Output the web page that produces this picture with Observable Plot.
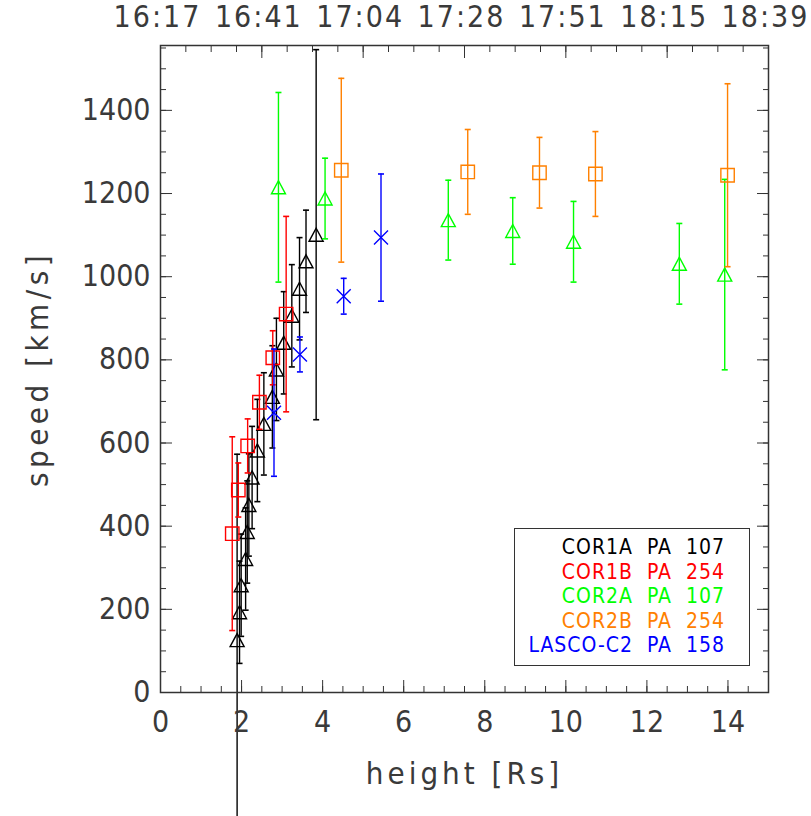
<!DOCTYPE html>
<html><head><meta charset="utf-8">
<script src="https://cdn.jsdelivr.net/npm/d3@7"></script>
<script src="https://cdn.jsdelivr.net/npm/@observablehq/plot@0.6"></script>
<style>
body{margin:0;background:#fff;}
#wrap{position:relative;width:811px;height:816px;overflow:hidden;}
#legend{position:absolute;left:514px;top:528px;width:236px;height:138px;border:1.5px solid #333;box-sizing:border-box;
 font-family:"Liberation Sans Narrow","DejaVu Sans Condensed","Liberation Sans",sans-serif;font-size:21px;text-align:right;
 padding:6px 24px 0 0;line-height:24.5px;white-space:pre;background:#fff;letter-spacing:1px;}
.ls2 text{letter-spacing:2px;}
</style></head><body><div id="wrap"></div>
<script>
// ---- data ----
const cor1aX = [1.89,1.95,1.99,2.10,2.14,2.18,2.26,2.39,2.55,2.76,2.86,3.04,3.24,3.43,3.59,3.84];
const cor1aY = [126,193,258,321,386,451,517,582,646,711,777,841,906,971,1037,1101];
const cor1aErr = [447,123,123,123,123,123,123,123,123,123,123,123,123,123,123,445];

const cor1bX = [1.77,1.92,2.15,2.44,2.77,3.10];
const cor1bY = [382,487,593,698,805,910];
const cor1bErr = [233,65,65,65,65,235];

const cor2aX = [2.91,4.06,7.10,8.69,10.19,12.80,13.92];
const cor2aY = [1215,1188,1136,1110,1084,1031,1005];
const cor2aErr = [228,97,96,80,97,97,229];

const cor2bX = [4.46,7.58,9.35,10.73,13.99];
const cor2bY = [1256,1252,1250,1247,1244];
const cor2bErr = [221,102,85,102,220];

const c2X = [2.80,3.44,4.52,5.44];
const c2Y = [673,813,953,1094];
const c2Err = [153,42,43,153];

const seriesNames = ["COR1A","COR1B","COR2A","COR2B","LASCO-C2"];
const seriesPA = [107,254,107,254,158];
const seriesColors = ["#000000","#ff0000","#00ff00","#ff8000","#0000ff"];

const xMajorTicks = [0,2,4,6,8,10,12,14];
const yMajorTicks = [0,200,400,600,800,1000,1200,1400];
const topTickPos = [0,2.5,5,7.5,10,12.5,15];
const topTickLabels = ["16:17","16:41","17:04","17:28","17:51","18:15","18:39"];

// ---- symbols ----
const capSym = {draw(c,s){const r=Math.sqrt(s/Math.PI);c.moveTo(-r,0);c.lineTo(r,0);}};
const triSym = {draw(c,s){const r=Math.sqrt(s/Math.PI);c.moveTo(-r,r*0.93);c.lineTo(0,-r*0.93);c.lineTo(r,r*0.93);c.closePath();}};
const sqSym = {draw(c,s){const r=Math.sqrt(s/Math.PI);c.moveTo(-r,-r);c.lineTo(r,-r);c.lineTo(r,r);c.lineTo(-r,r);c.closePath();}};
const xSym = {draw(c,s){const r=Math.sqrt(s/Math.PI);c.moveTo(-r,-r);c.lineTo(r,r);c.moveTo(-r,r);c.lineTo(r,-r);}};

const series = [
  {x:cor1aX,y:cor1aY,e:cor1aErr,sym:triSym,r:7},
  {x:cor1bX,y:cor1bY,e:cor1bErr,sym:sqSym,r:6.7},
  {x:cor2aX,y:cor2aY,e:cor2aErr,sym:triSym,r:7},
  {x:cor2bX,y:cor2bY,e:cor2bErr,sym:sqSym,r:6.7},
  {x:c2X,y:c2Y,e:c2Err,sym:xSym,r:7}
];

const FONT = '"Liberation Sans Narrow","DejaVu Sans Condensed","Liberation Sans",sans-serif';
const TXT = "#3a3a3a";
const marks = [];
series.forEach((s,k)=>{
  const rows = s.x.map((x,i)=>({x, y:s.y[i], e:s.e[i]}));
  const col = seriesColors[k];
  marks.push(Plot.ruleX(rows,{x:"x",y1:d=>d.y-d.e,y2:d=>d.y+d.e,stroke:col,strokeWidth:1.4}));
  marks.push(Plot.dot(rows,{x:"x",y:d=>d.y+d.e,symbol:capSym,r:3,stroke:col,strokeWidth:1.6}));
  marks.push(Plot.dot(rows,{x:"x",y:d=>d.y-d.e,symbol:capSym,r:3,stroke:col,strokeWidth:1.6}));
  marks.push(Plot.dot(rows,{x:"x",y:"y",symbol:s.sym,r:s.r,stroke:col,fill:"none",strokeWidth:1.4}));
});

const xMinor = d3.range(0,15.01,0.5);
const yMinor = d3.range(0,1556,50);
const topMinor = d3.range(0,15.01,0.625);
const axisCol = "#333";

marks.push(
  Plot.frame({stroke:axisCol,strokeWidth:1.5}),
  // bottom
  Plot.axisX(xMinor,{anchor:"bottom",tickSize:-6,tickFormat:()=>"",label:null,stroke:axisCol}),
  Plot.axisX(xMajorTicks,{anchor:"bottom",tickSize:-12,tickPadding:30,tickFormat:d=>String(d),label:null,stroke:axisCol,fill:TXT,fontSize:30}),
  Plot.axisX(xMajorTicks,{anchor:"bottom",tickSize:0,tickFormat:()=>"",label:"height [Rs]",labelAnchor:"center",labelOffset:91,labelArrow:"none",fill:TXT,fontSize:31}),
  // top (time)
  Plot.axisX(topMinor,{anchor:"top",tickSize:-6,tickFormat:()=>"",label:null,stroke:axisCol}),
  Plot.axisX(topTickPos,{anchor:"top",tickSize:-12,label:null,tickFormat:()=>"",stroke:axisCol}),
  Plot.axisX(topTickPos,{anchor:"top",tickSize:0,tickPadding:19,dx:-3,tickFormat:(d,i)=>topTickLabels[i],label:null,fill:TXT,fontSize:30,className:"ls2"}),
  // left
  Plot.axisY(yMinor,{anchor:"left",tickSize:-6,tickFormat:()=>"",label:null,stroke:axisCol}),
  Plot.axisY(yMajorTicks,{anchor:"left",tickSize:-12,tickPadding:22,tickFormat:d=>String(d),label:null,stroke:axisCol,fill:TXT,fontSize:30}),
  Plot.axisY(yMajorTicks,{anchor:"left",tickSize:0,tickFormat:()=>"",label:"speed [km/s]",labelAnchor:"center",labelOffset:135,labelArrow:"none",fill:TXT,fontSize:31}),
  // right
  Plot.axisY(yMinor,{anchor:"right",tickSize:-6,tickFormat:()=>"",label:null,stroke:axisCol}),
  Plot.axisY(yMajorTicks,{anchor:"right",tickSize:-12,tickFormat:()=>"",label:null,stroke:axisCol})
);

const chart = Plot.plot({
  width:811, height:816,
  marginLeft:160, marginRight:43, marginTop:45, marginBottom:124,
  x:{domain:[0,15]},
  y:{domain:[0,1556]},
  style:{fontFamily:FONT,fontSize:"30px",color:TXT,background:"#fff",overflow:"visible"},
  marks
});
const wrap = document.getElementById("wrap");
wrap.appendChild(chart);
// widen the axis titles' letter spacing (Hershey-like look)
d3.select(chart).selectAll("text").filter(function(){return this.textContent==="height [Rs]";}).style("letter-spacing","4px");
d3.select(chart).selectAll("text").filter(function(){return this.textContent==="speed [km/s]";}).style("letter-spacing","4.5px");

const legend = document.createElement("div");
legend.id = "legend";
seriesNames.forEach((n,k)=>{
  const line = document.createElement("div");
  line.textContent = n + "  PA  " + seriesPA[k];
  line.style.color = seriesColors[k];
  legend.appendChild(line);
});
wrap.appendChild(legend);
</script>
</body></html>
